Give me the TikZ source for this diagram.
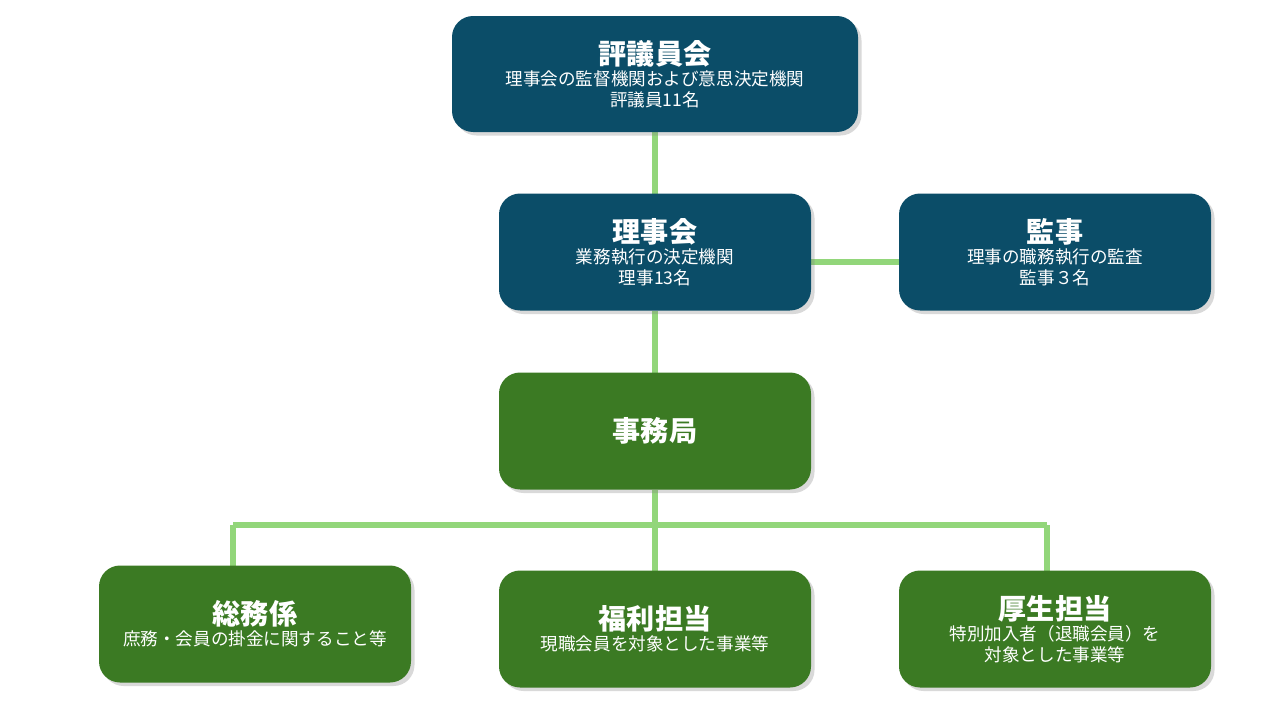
\documentclass[tikz,border=0pt]{standalone}
\usepackage{fontspec}
\setmainfont{Noto Sans CJK JP}
\usetikzlibrary{shadows}
\definecolor{navy}{HTML}{0B4D68}
\definecolor{leaf}{HTML}{3B7A23}
\definecolor{link}{HTML}{92D67A}
\tikzset{
  box/.style={rounded corners=12pt,text=white,align=center,minimum width=312*0.02cm,minimum height=117*0.02cm,
    drop shadow={shadow xshift=2pt,shadow yshift=-2pt,opacity=.3}},
  top/.style={box,fill=navy},
  unit/.style={box,fill=leaf},
  conn/.style={link,line width=3pt}
}
\newcommand{\ttl}[1]{{\fontsize{16}{19}\selectfont\bfseries #1}}
\newcommand{\sub}[1]{{\fontsize{10}{12.5}\selectfont #1}}
\begin{document}
\begin{tikzpicture}[x=0.02cm,y=-0.02cm]
\useasboundingbox (0,0) rectangle (1280,720);
\coordinate (hl) at (233,525);
\coordinate (hm) at (655,525);
\coordinate (hr) at (1047,525);
% lines first
\draw[conn] (655,132) -- (655,194);
\draw[conn] (811,262) -- (899,262);
\draw[conn] (655,311) -- (655,373);
\draw[conn] (655,490) -- (hm);
\draw[conn] (hl) -- (hr);
\draw[conn] (hl) -- (233,566);
\draw[conn] (hm) -- (655,571);
\draw[conn] (hr) -- (1047,571);

\node[top,minimum width=406*0.02cm,minimum height=116*0.02cm] (board) at (655,74) {\ttl{評議員会}\\\sub{理事会の監督機関および意思決定機関}\\\sub{評議員11名}};
\node[top] (directors) at (655,252) {\ttl{理事会}\\\sub{業務執行の決定機関}\\\sub{理事13名}};
\node[top] (auditor) at (1055,252) {\ttl{監事}\\\sub{理事の職務執行の監査}\\\sub{監事３名}};
\node[unit] (office) at (655,431) {\ttl{事務局}};
\node[unit] (general) at (255,624) {\ttl{総務係}\\\sub{庶務・会員の掛金に関すること等}};
\node[unit] (welfare) at (655,629) {\ttl{福利担当}\\\sub{現職会員を対象とした事業等}};
\node[unit] (health) at (1055,629) {\ttl{厚生担当}\\\sub{特別加入者（退職会員）を}\\\sub{対象とした事業等}};
\end{tikzpicture}
\end{document}
